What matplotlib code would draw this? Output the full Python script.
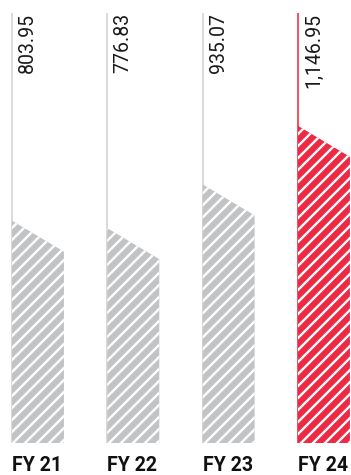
import matplotlib
matplotlib.use("Agg")
import matplotlib.pyplot as plt

categories = ["FY 21", "FY 22", "FY 23", "FY 24"]
values = [803.95, 776.83, 935.07, 1146.95]
value_labels = ["803.95", "776.83", "935.07", "1,146.95"]
highlight = [False, False, False, True]

GRAY = "#c2c3c5"
GRAY_LINE = "#d2d2d2"
RED = "#ee2944"
YMAX = 1555
DROP = 112
W = 0.545

plt.rcParams["hatch.linewidth"] = 2.4

fig = plt.figure(figsize=(351 / 72, 475 / 72), dpi=72)
ax = fig.add_axes([0, 32 / 475, 1, 430 / 475])
ax.set_xlim(-12 / 95.33, (351 - 12) / 95.33)
ax.set_ylim(0, YMAX)
ax.axis("off")

for i, (cat, v, lab, hi) in enumerate(zip(categories, values, value_labels, highlight)):
    fc = RED if hi else GRAY
    lc = RED if hi else GRAY_LINE
    ax.plot([i, i], [0, YMAX], color=lc, lw=1.6, solid_capstyle="butt", zorder=1)
    xs = [i, i, i + W, i + W]
    ys = [0, v, v - DROP, 0]
    ax.fill(xs, ys, facecolor=fc, edgecolor="white", hatch="//", linewidth=0, zorder=2)
    ax.annotate(lab, xy=(i, YMAX), xytext=(6, 0), textcoords="offset points",
                rotation=90, ha="left", va="top", fontsize=19.5,
                family="Roboto", fontweight="normal", color="#1a1a1a",
                annotation_clip=False)
    ax.annotate(cat, xy=(i, 0), xytext=(0, -32), textcoords="offset points",
                ha="left", va="bottom", fontsize=19.5, family="Roboto",
                fontweight="bold", color="#111111", annotation_clip=False)

fig.savefig("out.png", dpi=72)
